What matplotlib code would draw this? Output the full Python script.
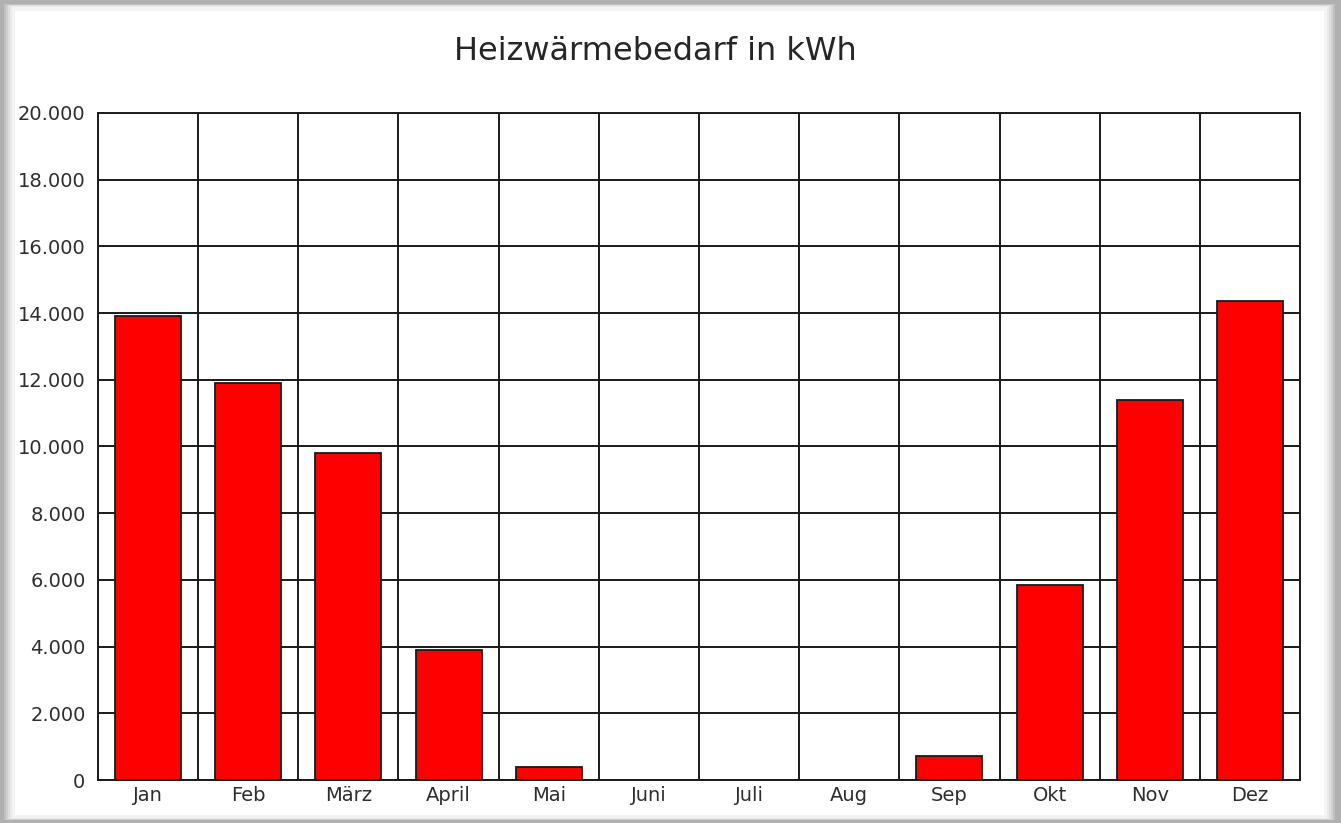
#!/usr/bin/env python3
# coding: utf-8

"""
Monthly heating demand as a bar chart
"""

import matplotlib
matplotlib.use('Agg')
import matplotlib.pyplot as plt
from matplotlib.patches import Rectangle
from matplotlib.ticker import FuncFormatter, MultipleLocator
import numpy as np

months = ['Jan', 'Feb', 'März', 'April', 'Mai', 'Juni',
          'Juli', 'Aug', 'Sep', 'Okt', 'Nov', 'Dez']
demand_kwh = [13900, 11900, 9800, 3900, 400, 0,
              0, 0, 720, 5850, 11400, 14350]

W, H = 1341, 823


def thousands(v, pos):
    return '{:,.0f}'.format(v).replace(',', '.')


def main():
    plt.rcParams['font.family'] = ['DejaVu Sans']
    fig = plt.figure(figsize=(W / 100, H / 100), dpi=100)

    # grey window frame with a soft shadow edge
    fig.patches.append(Rectangle((0, 0), 1, 1, transform=fig.transFigure,
                                 facecolor='#b0b0b0', edgecolor='none', zorder=-10))
    shades = ['#c0c0c0', '#d0d0d0', '#dedede', '#eaeaea', '#f4f4f4']
    x0, y0, x1, y1 = 4, 4, 1335, 820
    for i, c in enumerate(shades):
        fig.patches.append(Rectangle(((x0 + i * 2) / W, (H - y1 + i * 0.5) / H),
                                     (x1 - x0 - i * 4) / W, (y1 - y0 - i * 1.2) / H,
                                     transform=fig.transFigure, facecolor=c,
                                     edgecolor='none', zorder=-9 + i))
    fig.patches.append(Rectangle((15 / W, (H - 815) / H), (1324 - 15) / W, (815 - 11) / H,
                                 transform=fig.transFigure, facecolor='white',
                                 edgecolor='none', zorder=-3))

    ax = fig.add_axes([98 / W, (H - 780) / H, (1300 - 98) / W, (780 - 113) / H])
    ax.set_facecolor('white')
    x = np.arange(len(months))
    ax.bar(x, demand_kwh, width=0.66, color='#ff0000', edgecolor='#1a1a1a',
           linewidth=1.3, zorder=3)

    ax.set_xlim(-0.5, len(months) - 0.5)
    ax.set_ylim(0, 20000)
    ax.yaxis.set_major_locator(MultipleLocator(2000))
    ax.yaxis.set_major_formatter(FuncFormatter(thousands))
    ax.set_xticks(x)
    ax.set_xticklabels(months)
    ax.set_xticks(np.arange(-0.5, len(months)), minor=True)

    ax.grid(axis='y', which='major', color='#1a1a1a', linewidth=1.4, zorder=1)
    ax.grid(axis='x', which='minor', color='#1a1a1a', linewidth=1.4, zorder=1)
    ax.set_axisbelow(True)
    for s in ax.spines.values():
        s.set_color('#1a1a1a')
        s.set_linewidth(1.4)

    ax.tick_params(axis='both', which='both', length=0, labelsize=14,
                   colors='#2e2e2e')
    ax.tick_params(axis='y', pad=9)
    ax.tick_params(axis='x', pad=4)

    fig.text(655 / W, 1 - 51 / H, 'Heizwärmebedarf in kWh', ha='center',
             va='center', fontsize=23, color='#262626')

    fig.savefig('out.png', dpi=100)


if __name__ == '__main__':
    main()
